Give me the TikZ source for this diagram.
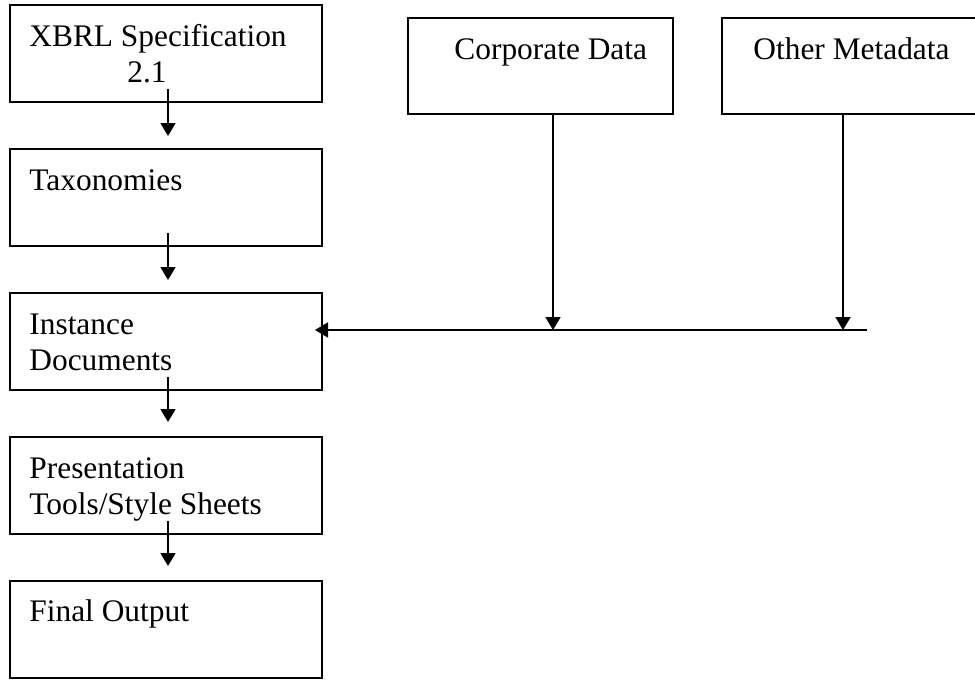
\documentclass[tikz,border=0pt]{standalone}
\usepackage{fontspec}
\setmainfont{Liberation Serif}
\usetikzlibrary{arrows.meta,positioning}
\tikzset{%
    >={Triangle[width=7.5pt,length=6.5pt]}
}

\begin{document}
\begin{tikzpicture}[x=0.5pt,y=-0.5pt,
        box/.style={draw,line width=0.9pt,minimum width=156pt,minimum height=48.5pt,inner sep=0pt,outer sep=0pt},
        srcbox/.style={draw,line width=0.9pt,minimum width=132.5pt,minimum height=48pt,inner sep=0pt,outer sep=0pt},
        txt/.style={anchor=base west,inner sep=0pt,align=left,font=\fontsize{15.7pt}{18pt}\selectfont},
        flow/.style={->,line width=0.9pt}]
        \clip (0,0) rectangle (975,681);

        \node[box] (spec) at (166,53.5) {};
        \node[box,below=23.5pt of spec] (tax) {};
        \node[box,below=23.5pt of tax] (inst) {};
        \node[box,below=23.5pt of inst] (pres) {};
        \node[box,below=23.5pt of pres] (final) {};
        \node[srcbox] (corp) at (540.5,66) {};
        \node[srcbox] (meta) at (854.5,66) {};

        % two-line texts are placed by their last baseline
        \node[txt] (spec-t) at ([shift={(19,77)}]spec.north west) {XBRL Specification\\\hspace*{49pt}2.1};
        \node[txt] (tax-t) at ([shift={(19,41)}]tax.north west) {Taxonomies};
        \node[txt] (inst-t) at ([shift={(19,77)}]inst.north west) {Instance\\Documents};
        \node[txt] (pres-t) at ([shift={(19,77)}]pres.north west) {Presentation\\Tools/Style Sheets};
        \node[txt] (final-t) at ([shift={(19,40)}]final.north west) {Final Output};
        \node[txt] (corp-t) at ([shift={(46,41)}]corp.north west) {Corporate Data};
        \node[txt] (meta-t) at ([shift={(31,41)}]meta.north west) {Other Metadata};

        \draw[flow] ([shift={(2,-13)}]spec.south) -- ([shift={(2,-13)}]tax.north);
        \draw[flow] ([shift={(2,-13)}]tax.south) -- ([shift={(2,-13)}]inst.north);
        \draw[flow] ([shift={(2,-13)}]inst.south) -- ([shift={(2,-15)}]pres.north);
        \draw[flow] ([shift={(2,-13)}]pres.south) -- ([shift={(2,-15)}]final.north);

        \coordinate (bus) at (867,330);
        \draw[flow] (bus) -- ([xshift=-3.5pt]bus -| inst.east);
        \draw[flow] ([xshift=6.25pt]corp.south) -- ([xshift=6.25pt]corp.south |- bus);
        \draw[flow] ([xshift=-5.75pt]meta.south) -- ([xshift=-5.75pt]meta.south |- bus);
    \end{tikzpicture}
\end{document}
